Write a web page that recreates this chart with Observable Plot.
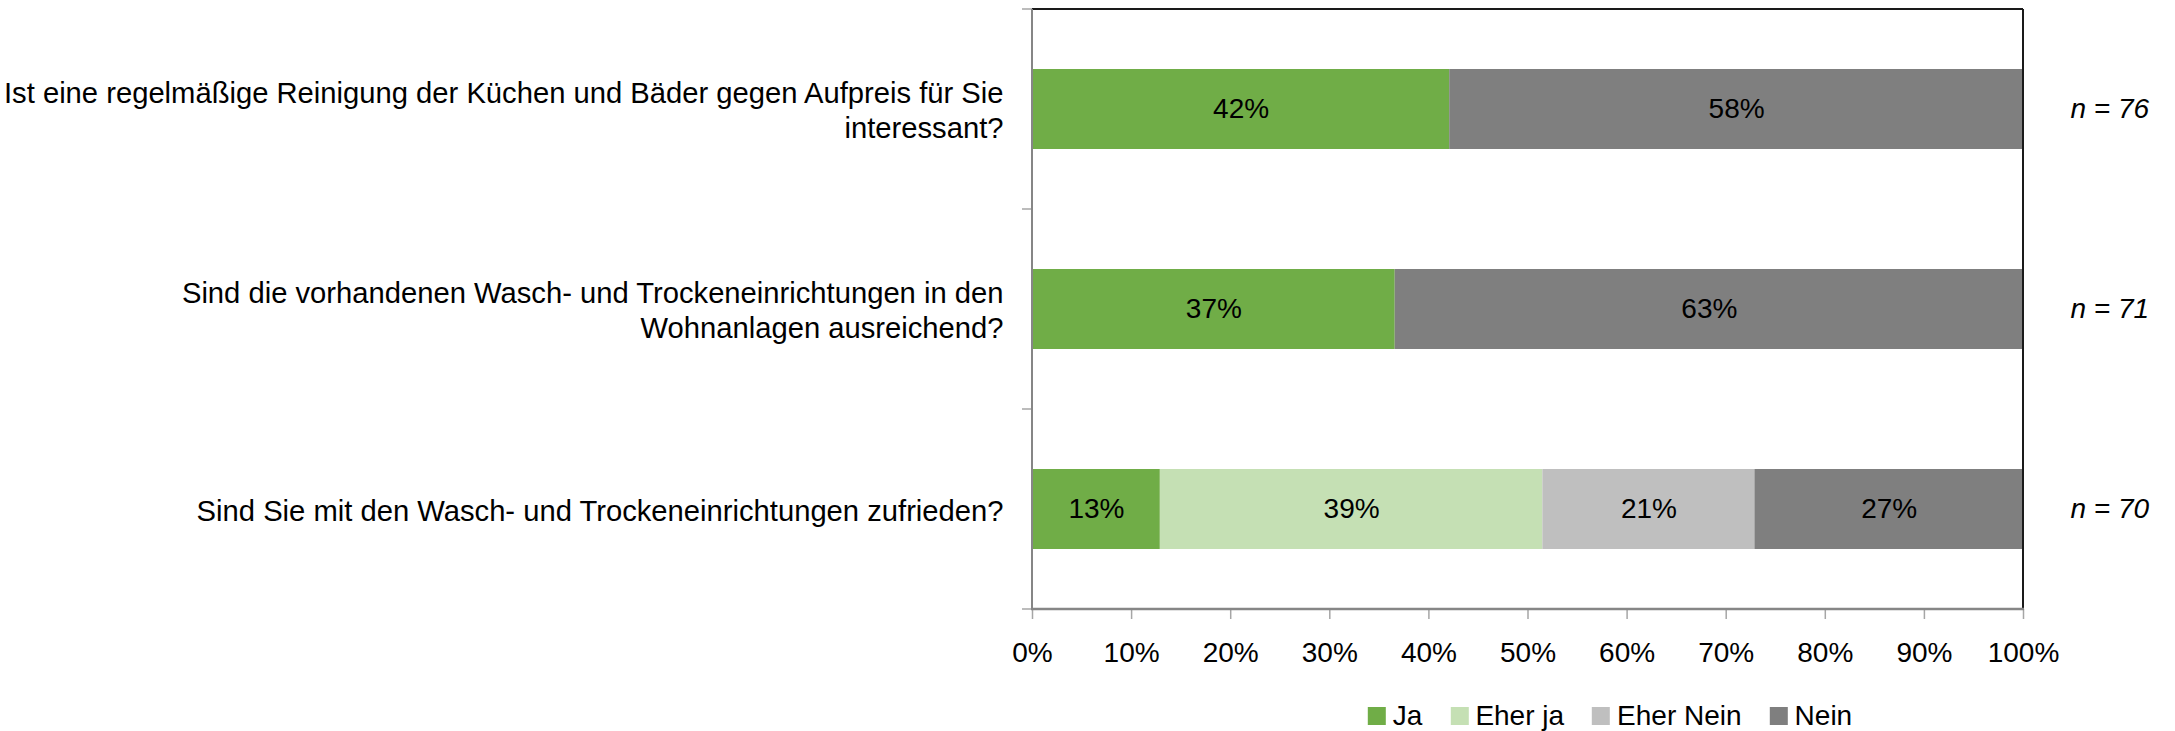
<!DOCTYPE html>
<html>
<head>
<meta charset="utf-8">
<script src="https://cdn.jsdelivr.net/npm/d3@7"></script>
<script src="https://cdn.jsdelivr.net/npm/@observablehq/plot@0.6"></script>
<style>
  html, body { margin: 0; padding: 0; background: #fff; }
  #wrap { position: relative; width: 2175px; height: 731px; background: #fff; overflow: hidden;
          font-family: "Liberation Sans", Arial, sans-serif; }
  #legend { position: absolute; top: 700px; left: 1610px; transform: translateX(-50%);
            display: flex; align-items: center; white-space: nowrap; font-size: 28px; color: #000; }
  .item { display: flex; align-items: center; margin-right: 28px; }
  .item:last-child { margin-right: 0; }
  .sw { width: 18px; height: 18px; margin-right: 7px; }
</style>
</head>
<body>
<div id="wrap"><div id="chart"></div><div id="legend"></div></div>
<script>
const questions = [
  "Ist eine regelmäßige Reinigung der Küchen und Bäder gegen Aufpreis für Sie\ninteressant?",
  "Sind die vorhandenen Wasch- und Trockeneinrichtungen in den\nWohnanlagen ausreichend?",
  "Sind Sie mit den Wasch- und Trockeneinrichtungen zufrieden?"
];
const answers = ["Ja", "Eher ja", "Eher Nein", "Nein"];
const colors = ["#70AD47", "#C5E0B4", "#BFBFBF", "#7F7F7F"];
const ja = [42.1, 36.6, 12.9];
const eherJa = [0, 0, 38.6];
const eherNein = [0, 0, 21.4];
const nein = [57.9, 63.4, 27.1];
const nValues = [76, 71, 70];
const xTicks = [0, 10, 20, 30, 40, 50, 60, 70, 80, 90, 100];

const series = [ja, eherJa, eherNein, nein];
const rows = [];
questions.forEach((q, i) => {
  answers.forEach((a, j) => {
    const v = series[j][i];
    if (v > 0) rows.push({question: q, answer: a, value: v});
  });
});
const nRows = questions.map((q, i) => ({question: q, label: "n = " + nValues[i]}));

function decor(index, scales, values, dims) {
  const {width, height, marginLeft, marginRight, marginTop, marginBottom} = dims;
  const l = marginLeft, r = width - marginRight, t = marginTop, b = height - marginBottom;
  const y = scales.y;
  const half = (y.step() - y.bandwidth()) / 2;
  const g = d3.create("svg:g");
  const bounds = questions.map(q => y(q) - half).concat([b]);
  bounds.forEach(yy => {
    g.append("line").attr("x1", l - 10).attr("x2", l).attr("y1", yy).attr("y2", yy)
      .attr("stroke", "#A6A6A6").attr("stroke-width", 1.5);
  });
  g.append("line").attr("x1", l).attr("x2", r).attr("y1", t).attr("y2", t)
    .attr("stroke", "#1a1a1a").attr("stroke-width", 2);
  g.append("line").attr("x1", r).attr("x2", r).attr("y1", t).attr("y2", b)
    .attr("stroke", "#1a1a1a").attr("stroke-width", 2);
  g.append("line").attr("x1", l).attr("x2", l).attr("y1", t).attr("y2", b)
    .attr("stroke", "#868686").attr("stroke-width", 2);
  g.append("line").attr("x1", l - 1).attr("x2", r + 1).attr("y1", b).attr("y2", b)
    .attr("stroke", "#868686").attr("stroke-width", 2.5);
  return g.node();
}

const chart = Plot.plot({
  width: 2175,
  height: 690,
  marginTop: 9,
  marginBottom: 81,
  marginLeft: 1032,
  marginRight: 152,
  style: {fontFamily: '"Liberation Sans", Arial, sans-serif', fontSize: "28px", color: "#000", background: "#fff"},
  x: {domain: [0, 100], ticks: xTicks, tickFormat: d => d + "%", label: null},
  y: {domain: questions, paddingInner: 0.6, paddingOuter: 0.3, label: null},
  color: {domain: answers, range: colors},
  marks: [
    Plot.barX(rows, Plot.stackX({x: "value", y: "question", fill: "answer", order: answers})),
    Plot.textX(rows, Plot.stackX({x: "value", y: "question", z: "answer", order: answers,
      text: d => Math.round(d.value) + "%", fill: "#000", fontSize: 28})),
    Plot.text(nRows, {y: "question", text: "label", frameAnchor: "right", dx: 47, textAnchor: "start",
      fontStyle: "italic", fontSize: 28, fill: "#000"}),
    Plot.axisX({ticks: xTicks, tickFormat: d => d + "%", tickSize: 10, tickPadding: 23,
      stroke: "#A6A6A6", strokeWidth: 1.5, fill: "#000", fontSize: 28, label: null}),
    Plot.axisY({tickSize: 0, tickPadding: 29, fontSize: 29.2, lineHeight: 1.2, fill: "#000", label: null}),
    decor
  ]
});
document.getElementById("chart").appendChild(chart);

const legend = document.getElementById("legend");
answers.forEach((a, i) => {
  const item = document.createElement("div");
  item.className = "item";
  const sw = document.createElement("div");
  sw.className = "sw";
  sw.style.background = colors[i];
  const tx = document.createElement("span");
  tx.textContent = a;
  item.appendChild(sw);
  item.appendChild(tx);
  legend.appendChild(item);
});
</script>
</body>
</html>
